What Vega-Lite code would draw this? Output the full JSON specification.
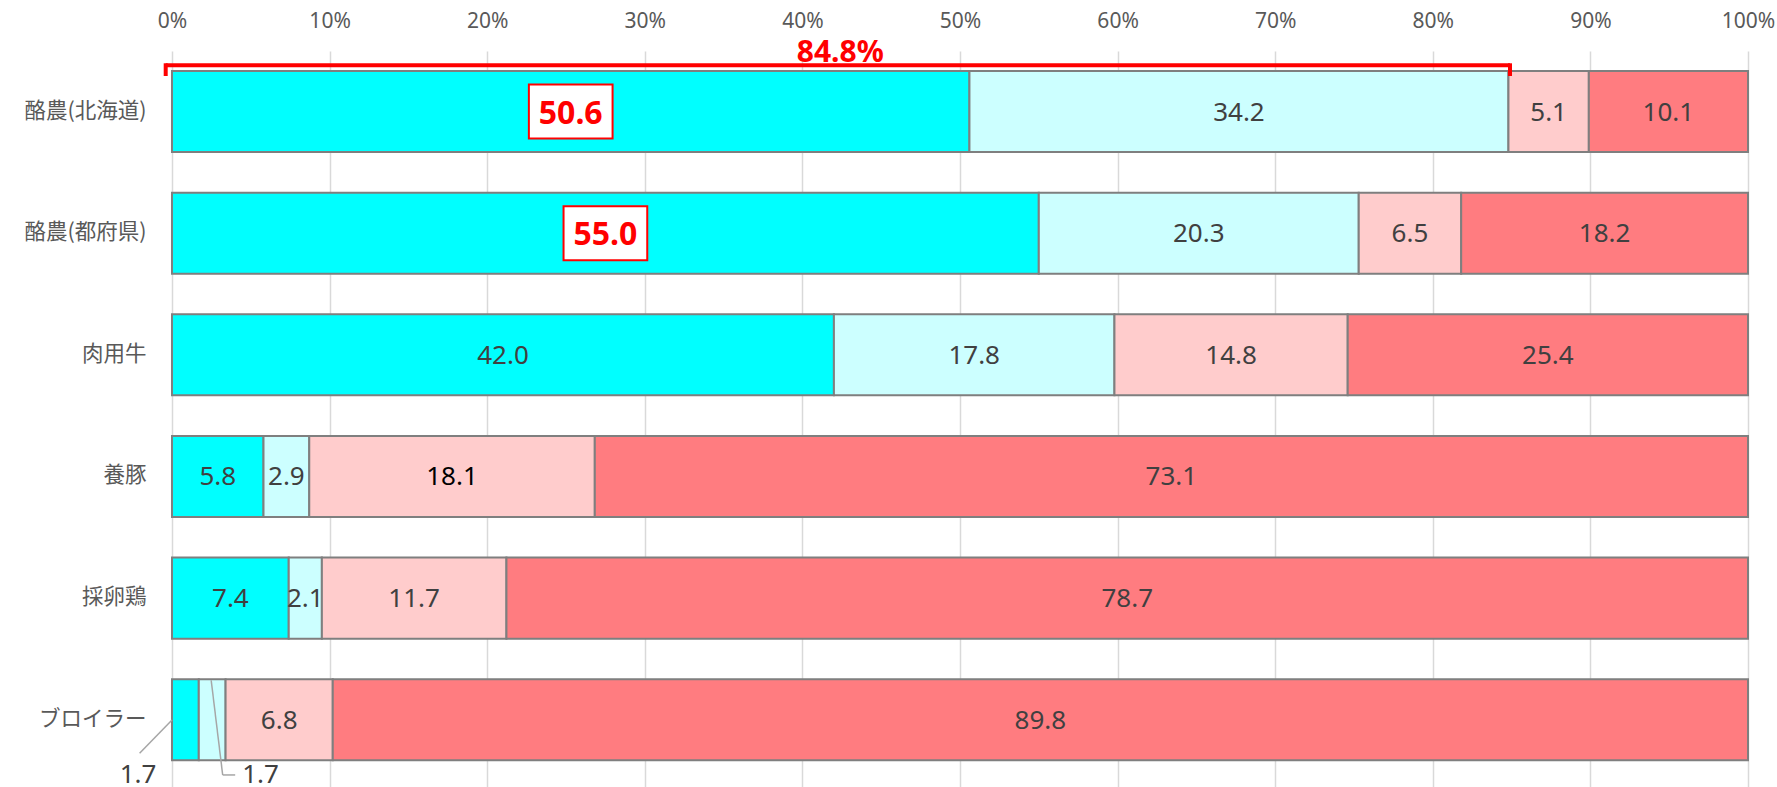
{
  "$schema": "https://vega.github.io/schema/vega-lite/v6.json",
  "width": 1576,
  "height": 736,
  "autosize": {"type": "none"},
  "padding": {"left": 172, "top": 51, "right": 29, "bottom": 0},
  "background": "white",
  "config": {
    "view": {"stroke": null},
    "font": "Noto Sans",
    "axis": {"domain": false, "ticks": false},
    "axisX": {"grid": true, "gridColor": "#D9D9D9", "gridWidth": 1.5, "labelFont": "Noto Sans", "labelFontSize": 21, "labelColor": "#595959", "labelPadding": 24, "labelBaseline": "alphabetic", "labelFlush": false, "labelOverlap": false},
    "axisY": {"grid": false, "labelPadding": 26, "labelFont": "Noto Sans CJK JP", "labelFontSize": 21.5, "labelColor": "#595959"}
  },
  "datasets": {
    "main": [
      {"cat": "酪農(北海道)", "kind": "区分1", "k": 1, "value": 50.6},
      {"cat": "酪農(北海道)", "kind": "区分2", "k": 2, "value": 34.2},
      {"cat": "酪農(北海道)", "kind": "区分3", "k": 3, "value": 5.1},
      {"cat": "酪農(北海道)", "kind": "区分4", "k": 4, "value": 10.1},
      {"cat": "酪農(都府県)", "kind": "区分1", "k": 1, "value": 55.0},
      {"cat": "酪農(都府県)", "kind": "区分2", "k": 2, "value": 20.3},
      {"cat": "酪農(都府県)", "kind": "区分3", "k": 3, "value": 6.5},
      {"cat": "酪農(都府県)", "kind": "区分4", "k": 4, "value": 18.2},
      {"cat": "肉用牛", "kind": "区分1", "k": 1, "value": 42.0},
      {"cat": "肉用牛", "kind": "区分2", "k": 2, "value": 17.8},
      {"cat": "肉用牛", "kind": "区分3", "k": 3, "value": 14.8},
      {"cat": "肉用牛", "kind": "区分4", "k": 4, "value": 25.4},
      {"cat": "養豚", "kind": "区分1", "k": 1, "value": 5.8},
      {"cat": "養豚", "kind": "区分2", "k": 2, "value": 2.9},
      {"cat": "養豚", "kind": "区分3", "k": 3, "value": 18.1},
      {"cat": "養豚", "kind": "区分4", "k": 4, "value": 73.1},
      {"cat": "採卵鶏", "kind": "区分1", "k": 1, "value": 7.4},
      {"cat": "採卵鶏", "kind": "区分2", "k": 2, "value": 2.1},
      {"cat": "採卵鶏", "kind": "区分3", "k": 3, "value": 11.7},
      {"cat": "採卵鶏", "kind": "区分4", "k": 4, "value": 78.7},
      {"cat": "ブロイラー", "kind": "区分1", "k": 1, "value": 1.7},
      {"cat": "ブロイラー", "kind": "区分2", "k": 2, "value": 1.7},
      {"cat": "ブロイラー", "kind": "区分3", "k": 3, "value": 6.8},
      {"cat": "ブロイラー", "kind": "区分4", "k": 4, "value": 89.8}
    ],
    "bracket": [
      {"cat": "酪農(北海道)", "from": -0.004, "to": 0.849, "mid": 0.424, "label": "84.8%"}
    ],
    "notes": [
      {"cat": "ブロイラー", "pos": 0, "label": "1.7"},
      {"cat": "ブロイラー", "pos": 0.0255, "label": "1.7"}
    ]
  },
  "layer": [
    {
      "data": {"name": "main"},
      "mark": {"type": "bar", "stroke": "#7F7F7F", "strokeWidth": 2},
      "encoding": {
        "y": {
          "field": "cat", "type": "nominal", "sort": null, "title": null,
          "scale": {"domain": ["酪農(北海道)", "酪農(都府県)", "肉用牛", "養豚", "採卵鶏", "ブロイラー"], "paddingInner": 0.334, "paddingOuter": 0.192, "align": 0.428}
        },
        "x": {
          "field": "value", "type": "quantitative", "stack": "normalize", "title": null,
          "scale": {"domain": [0, 1], "nice": false},
          "axis": {"orient": "top", "values": [0, 0.1, 0.2, 0.3, 0.4, 0.5, 0.6, 0.7, 0.8, 0.9, 1], "format": ".0%"}
        },
        "color": {"field": "kind", "type": "nominal", "scale": {"domain": ["区分1", "区分2", "区分3", "区分4"], "range": ["#00FFFF", "#CCFFFF", "#FFCCCC", "#FF7C80"]}, "legend": null},
        "order": {"field": "k", "type": "quantitative"}
      }
    },
    {
      "data": {"name": "main"},
      "mark": {"type": "text", "fontSize": 26, "font": "Noto Sans", "baseline": "middle", "align": "center", "dy": 1},
      "encoding": {
        "y": {"field": "cat", "type": "nominal", "sort": null, "title": null},
        "x": {"field": "value", "type": "quantitative", "stack": "normalize", "bandPosition": 0.5, "title": null, "axis": {"orient": "top", "values": [0, 0.1, 0.2, 0.3, 0.4, 0.5, 0.6, 0.7, 0.8, 0.9, 1], "format": ".0%"}},
        "detail": {"field": "kind"},
        "order": {"field": "k", "type": "quantitative"},
        "text": {"condition": {"test": "(datum.cat === 'ブロイラー' && datum.k <= 2) || (datum.k === 1 && datum.value > 50)", "value": ""}, "field": "value", "type": "quantitative", "format": ".1f"},
        "color": {"condition": {"test": "datum.cat === '養豚' && datum.k === 3", "value": "#000000"}, "value": "#404040"}
      }
    },
    {
      "data": {"name": "main"},
      "mark": {"type": "point", "shape": "M-1.55,-1L1.55,-1L1.55,1L-1.55,1Z", "size": 2916, "filled": true, "fill": "#FFFFFF", "stroke": "#FF0000", "strokeWidth": 2},
      "encoding": {
        "y": {"field": "cat", "type": "nominal", "sort": null, "title": null},
        "x": {"field": "value", "type": "quantitative", "stack": "normalize", "bandPosition": 0.5, "title": null, "axis": {"orient": "top", "values": [0, 0.1, 0.2, 0.3, 0.4, 0.5, 0.6, 0.7, 0.8, 0.9, 1], "format": ".0%"}},
        "detail": {"field": "kind"},
        "order": {"field": "k", "type": "quantitative"},
        "opacity": {"condition": {"test": "datum.k === 1 && datum.value > 50", "value": 1}, "value": 0}
      }
    },
    {
      "data": {"name": "main"},
      "mark": {"type": "text", "fontSize": 32, "fontWeight": "bold", "font": "Noto Sans", "baseline": "middle", "align": "center", "dy": 2, "color": "#FF0000"},
      "encoding": {
        "y": {"field": "cat", "type": "nominal", "sort": null, "title": null},
        "x": {"field": "value", "type": "quantitative", "stack": "normalize", "bandPosition": 0.5, "title": null, "axis": {"orient": "top", "values": [0, 0.1, 0.2, 0.3, 0.4, 0.5, 0.6, 0.7, 0.8, 0.9, 1], "format": ".0%"}},
        "detail": {"field": "kind"},
        "order": {"field": "k", "type": "quantitative"},
        "text": {"condition": {"test": "datum.k === 1 && datum.value > 50", "field": "value", "type": "quantitative", "format": ".1f"}, "value": ""}
      }
    },
    {
      "data": {"name": "bracket"},
      "mark": {"type": "rule", "color": "#FF0000", "strokeWidth": 4, "yOffset": -5.7},
      "encoding": {
        "y": {"field": "cat", "type": "nominal", "bandPosition": 0, "title": null},
        "x": {"field": "from", "type": "quantitative", "title": null, "axis": {"orient": "top", "values": [0, 0.1, 0.2, 0.3, 0.4, 0.5, 0.6, 0.7, 0.8, 0.9, 1], "format": ".0%"}},
        "x2": {"field": "to"}
      }
    },
    {
      "data": {"name": "bracket"},
      "transform": [{"fold": ["from", "to"], "as": ["end", "at"]}],
      "mark": {"type": "rule", "color": "#FF0000", "strokeWidth": 4, "yOffset": -7.7, "y2Offset": -35.5},
      "encoding": {
        "y": {"field": "cat", "type": "nominal", "bandPosition": 0, "title": null},
        "y2": {"field": "cat"},
        "x": {"field": "at", "type": "quantitative", "title": null, "axis": {"orient": "top", "values": [0, 0.1, 0.2, 0.3, 0.4, 0.5, 0.6, 0.7, 0.8, 0.9, 1], "format": ".0%"}}
      }
    },
    {
      "data": {"name": "bracket"},
      "mark": {"type": "text", "color": "#FF0000", "fontSize": 30, "fontWeight": "bold", "font": "Noto Sans", "align": "center", "baseline": "alphabetic", "dy": -9},
      "encoding": {
        "y": {"field": "cat", "type": "nominal", "bandPosition": 0, "title": null},
        "x": {"field": "mid", "type": "quantitative", "title": null, "axis": {"orient": "top", "values": [0, 0.1, 0.2, 0.3, 0.4, 0.5, 0.6, 0.7, 0.8, 0.9, 1], "format": ".0%"}},
        "text": {"field": "label"}
      }
    },
    {
      "data": {"name": "notes"},
      "transform": [{"filter": "datum.pos === 0"}],
      "mark": {"type": "rule", "color": "#A6A6A6", "strokeWidth": 1.5, "yOffset": 40.7, "x2Offset": -32.4, "y2Offset": 33.5},
      "encoding": {
        "y": {"field": "cat", "type": "nominal", "bandPosition": 0, "title": null},
        "y2": {"field": "cat"},
        "x": {"field": "pos", "type": "quantitative", "title": null, "axis": {"orient": "top", "values": [0, 0.1, 0.2, 0.3, 0.4, 0.5, 0.6, 0.7, 0.8, 0.9, 1], "format": ".0%"}},
        "x2": {"field": "pos"}
      }
    },
    {
      "data": {"name": "notes"},
      "transform": [{"filter": "datum.pos > 0"}],
      "mark": {"type": "rule", "color": "#A6A6A6", "strokeWidth": 1.5, "xOffset": -1, "yOffset": 1, "x2Offset": 10.5, "y2Offset": 55.2},
      "encoding": {
        "y": {"field": "cat", "type": "nominal", "bandPosition": 0, "title": null},
        "y2": {"field": "cat"},
        "x": {"field": "pos", "type": "quantitative", "title": null, "axis": {"orient": "top", "values": [0, 0.1, 0.2, 0.3, 0.4, 0.5, 0.6, 0.7, 0.8, 0.9, 1], "format": ".0%"}},
        "x2": {"field": "pos"}
      }
    },
    {
      "data": {"name": "notes"},
      "transform": [{"filter": "datum.pos > 0"}],
      "mark": {"type": "rule", "color": "#A6A6A6", "strokeWidth": 1.5, "xOffset": 10.5, "x2Offset": 23, "yOffset": 95.7},
      "encoding": {
        "y": {"field": "cat", "type": "nominal", "bandPosition": 0, "title": null},
        "x": {"field": "pos", "type": "quantitative", "title": null, "axis": {"orient": "top", "values": [0, 0.1, 0.2, 0.3, 0.4, 0.5, 0.6, 0.7, 0.8, 0.9, 1], "format": ".0%"}},
        "x2": {"field": "pos"}
      }
    },
    {
      "data": {"name": "notes"},
      "transform": [{"filter": "datum.pos === 0"}],
      "mark": {"type": "text", "fontSize": 26, "font": "Noto Sans", "color": "#404040", "align": "center", "baseline": "alphabetic", "dx": -34, "dy": 104},
      "encoding": {
        "y": {"field": "cat", "type": "nominal", "bandPosition": 0, "title": null},
        "x": {"field": "pos", "type": "quantitative", "title": null, "axis": {"orient": "top", "values": [0, 0.1, 0.2, 0.3, 0.4, 0.5, 0.6, 0.7, 0.8, 0.9, 1], "format": ".0%"}},
        "text": {"field": "label"}
      }
    },
    {
      "data": {"name": "notes"},
      "transform": [{"filter": "datum.pos > 0"}],
      "mark": {"type": "text", "fontSize": 26, "font": "Noto Sans", "color": "#404040", "align": "center", "baseline": "alphabetic", "dx": 48.3, "dy": 104},
      "encoding": {
        "y": {"field": "cat", "type": "nominal", "bandPosition": 0, "title": null},
        "x": {"field": "pos", "type": "quantitative", "title": null, "axis": {"orient": "top", "values": [0, 0.1, 0.2, 0.3, 0.4, 0.5, 0.6, 0.7, 0.8, 0.9, 1], "format": ".0%"}},
        "text": {"field": "label"}
      }
    }
  ]
}
